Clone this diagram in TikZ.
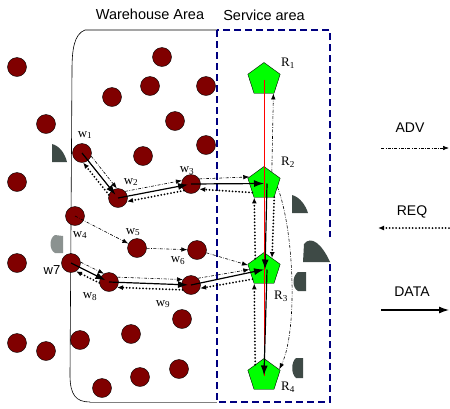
\documentclass[tikz,border=0pt]{standalone}
\usepackage{fontspec}
\setmainfont{Liberation Sans}
\newfontfamily\tms{Liberation Serif}
\usetikzlibrary{shapes.geometric,arrows.meta,calc}
\definecolor{dotred}{RGB}{128,0,0}
\definecolor{rgreen}{RGB}{0,255,0}
\definecolor{areablue}{RGB}{0,0,128}
\definecolor{fingray}{RGB}{62,74,70}

\begin{document}
\begin{tikzpicture}[x=1pt,y=-1pt,
    dot/.style={circle,draw,fill=dotred,minimum size=19pt,inner sep=0pt},
    rnode/.style={regular polygon,regular polygon sides=5,draw,fill=rgreen,minimum size=34pt,inner sep=0pt},
    adv/.style={line width=0.6pt,dash pattern=on 3pt off 1.5pt on 0.6pt off 1.5pt,-{Latex[length=6pt,width=4.5pt]}},
    req/.style={line width=2pt,line cap=round,dash pattern=on 0pt off 3.3pt,-{Latex[length=6pt,width=5pt]}},
    data/.style={line width=1.2pt,-{Latex[length=10pt,width=7pt]}},
    wlab/.style={font=\tms\fontsize{13}{15}\selectfont,inner sep=0pt},
    hdr/.style={font=\fontsize{14.5}{17}\selectfont,inner sep=0pt}]
    \useasboundingbox (0,0) rectangle (450,408);

    % areas
    \draw[line width=0.6pt] (217,30) -- (85,30) .. controls (74,34) and (72,50) .. (72,70)
        -- (70,375) .. controls (70,395) and (76,402) .. (90,402);
    \draw[gray,line width=1pt] (90,402) -- (217,402);
    \draw[areablue,line width=1.3pt,dash pattern=on 7pt off 4pt] (217,30) rectangle (330,402);
    \node[hdr] (wh) at (150,14) {Warehouse Area};
    \node[hdr] (sa) at (264,15) {Service area};

    % sensors
    \foreach \x/\y [count=\i] in {17/67,162/57,150/86,206/86,112/97,46/124,175/121,206/145,
        143/156,17/182,17/263,182/319,131/334,17/343,46/351,80/340,140/377,179/369,102/388}
        \node[dot] (d\i) at (\x,\y) {};
    \node[dot] (w1) at (82,153) {};
    \node[dot] (w2) at (118,198) {};
    \node[dot] (w3) at (191,184) {};
    \node[dot] (w4) at (75,216) {};
    \node[dot] (w5) at (137,248) {};
    \node[dot] (w6) at (197,250) {};
    \node[dot] (w7) at (71,263) {};
    \node[dot] (w8) at (109,282) {};
    \node[dot] (w9) at (191,285) {};

    % robots
    \node[rnode] (R1) at (264,79.5) {};
    \node[rnode] (R2) at (264,183.5) {};
    \node[rnode] (R3) at (264,269.5) {};
    \node[rnode] (R4) at (264,375.5) {};
    \draw[red,line width=0.8pt] (R1.center) -- (R4.center);

    % upper path
    \draw[adv] (w1.-19) -- (w2.97);
    \draw[data,shorten >=4pt] (w1.center) -- (w2.center);
    \draw[req] (w2.161) -- (w1.-83);
    \draw[adv] (w2.43) -- (w3.159);
    \draw[data,shorten >=3pt] (w2.center) -- (w3.center);
    \draw[req] (w3.-137) -- (w2.-21);
    \draw[adv] (w3.32) -- (R2.156);
    \draw[data] (w3.center) -- (R2.center);
    \draw[req] (R2.218) -- (w3.-32);

    % lower path
    \draw[adv] (w4.center) -- (w5);
    \draw[adv] (w5) -- (w6);
    \draw[adv] (w6) -- (R3.165);
    \draw[adv] (w7.5) -- (w8.121);
    \draw[data,shorten >=4pt] (w7.center) -- (w8.center);
    \draw[req] (w8.185) -- (w7.-59);
    \draw[adv] (w8.30) -- (w9.146);
    \draw[data,shorten >=3pt] (w8.center) -- (w9.center);
    \draw[req] (w9.-150) -- (w8.-34);
    \draw[adv] (w9.44) -- (R3.180);
    \draw[data] (w9.center) -- (R3.center);
    \draw[req] (R3.220) -- (w9.-20);

    % between robots
    \draw[adv] (R2.56) -- (R1.-56);
    \draw[req] (R3.129) -- (R2.235);
    \draw[req] (R2.-53) -- (R3.55);
    \draw[data] ([xshift=3pt]R2.center) -- ([xshift=1pt]R3.center);
    \draw[adv] (R2.-15) .. controls (294,230) and (298,330) .. (R4.22);
    \draw[req] (R4.129) -- (R3.235);
    \draw[data] ([xshift=3pt]R3.center) -- (R4.center);

    % little pictures
    \fill[fingray] (52,162) -- (52,144) .. controls (60,146) and (65,154) .. (67,162) -- cycle;
    \fill[fingray!60] (63,236) -- (55,235) .. controls (49,238) and (49,250) .. (55,253) -- (63,253) -- cycle;
    \fill[fingray] (292,213) -- (292,195) .. controls (300,197) and (306,206) .. (308,213) -- cycle;
    \fill[white] (324,237) rectangle (334,263);
    \fill[fingray] (303,262) -- (304,244) .. controls (311,235) and (322,244) .. (330,262) -- cycle;
    \fill[fingray] (306,272) -- (298,272) .. controls (292,276) and (292,288) .. (298,291) -- (306,291) -- cycle;
    \fill[fingray] (303,358) -- (296,358) .. controls (291,362) and (291,374) .. (296,378) -- (303,378) -- cycle;

    % labels
    \node[wlab] (lw1) at (85,135) {w\textsubscript{1}};
    \node[wlab] (lw2) at (131,182) {w\textsubscript{2}};
    \node[wlab] (lw3) at (187,171) {w\textsubscript{3}};
    \node[wlab] (lw4) at (80,235) {w\textsubscript{4}};
    \node[wlab] (lw5) at (133,232) {w\textsubscript{5}};
    \node[wlab] (lw6) at (178,261) {w\textsubscript{6}};
    \node[font=\fontsize{13}{15}\selectfont,inner sep=0pt] (lw7) at (52,270) {w7};
    \node[wlab] (lw8) at (90,297) {w\textsubscript{8}};
    \node[wlab] (lw9) at (163,304) {w\textsubscript{9}};
    \node[wlab] (lR1) at (288,63) {R\textsubscript{1}};
    \node[wlab] (lR2) at (288,162) {R\textsubscript{2}};
    \node[wlab] (lR3) at (281,296) {R\textsubscript{3}};
    \node[wlab] (lR4) at (288,387) {R\textsubscript{4}};

    % legend
    \node[hdr,font=\fontsize{14}{16}\selectfont] (ladv) at (410,128) {ADV};
    \coordinate (adva) at (381,148);
    \coordinate (advb) at (449,148);
    \draw[adv] (adva) -- (advb);
    \node[hdr,font=\fontsize{14}{16}\selectfont] (lreq) at (412,212) {REQ};
    \coordinate (reqa) at (449,228);
    \coordinate (reqb) at (378,228);
    \draw[req] (reqa) -- (reqb);
    \node[hdr,font=\fontsize{14}{16}\selectfont] (ldata) at (412,292) {DATA};
    \coordinate (dataa) at (381,310);
    \coordinate (datab) at (449,310);
    \draw[data] (dataa) -- (datab);
\end{tikzpicture}
\end{document}
